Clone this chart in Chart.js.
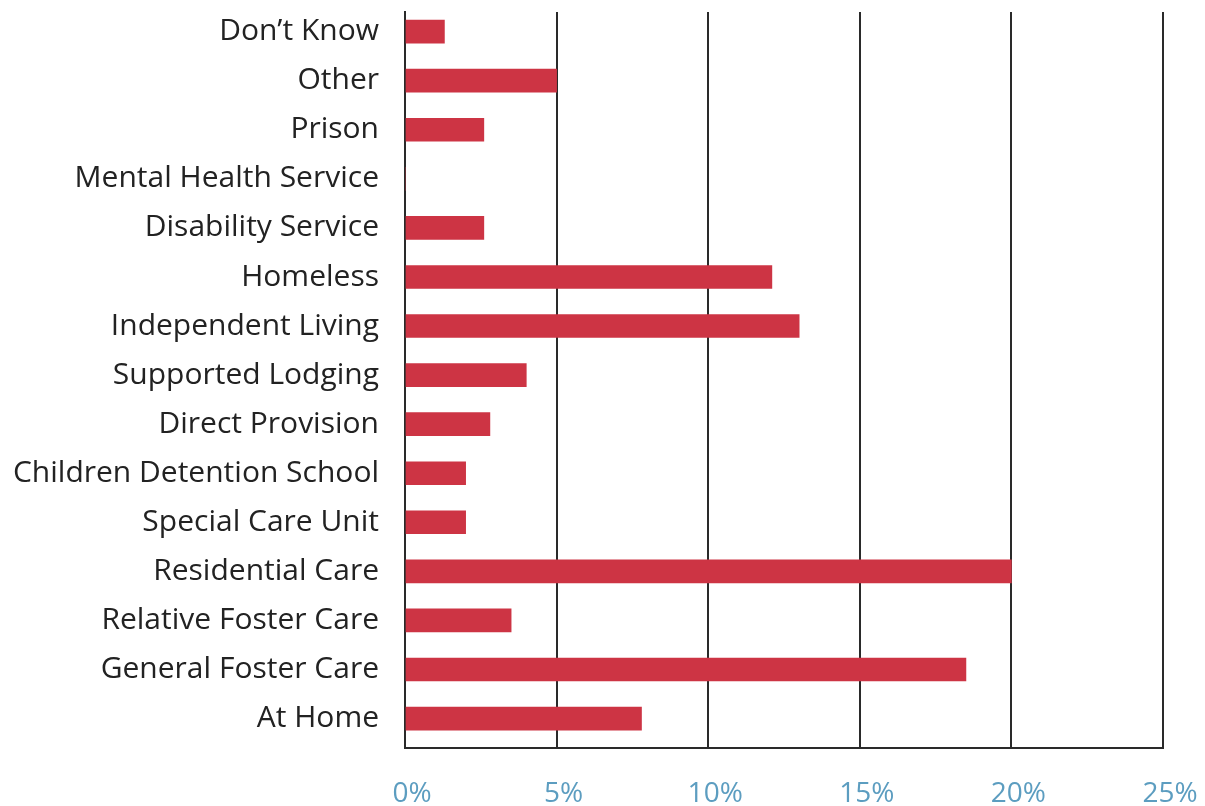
<!DOCTYPE html>
<html>
<head>
<meta charset="utf-8">
<script src="https://cdn.jsdelivr.net/npm/chart.js@4/dist/chart.umd.min.js"></script>
<style>
  html, body { margin: 0; padding: 0; background: #ffffff; }
  #wrap { width: 1205px; height: 806px; position: relative; }
</style>
</head>
<body>
<div id="wrap"><canvas id="chart" width="1205" height="806"></canvas></div>
<script>
// Where young people were living, top row first
const categories = [
  "Don\u2019t Know",
  "Other",
  "Prison",
  "Mental Health Service",
  "Disability Service",
  "Homeless",
  "Independent Living",
  "Supported Lodging",
  "Direct Provision",
  "Children Detention School",
  "Special Care Unit",
  "Residential Care",
  "Relative Foster Care",
  "General Foster Care",
  "At Home"
];

// Share of respondents, in percent
const percentages = [1.3, 5.0, 2.6, 0, 2.6, 12.1, 13.0, 4.0, 2.8, 2.0, 2.0, 20.0, 3.5, 18.5, 7.8];

// Value-axis ticks
const xTicks = [0, 5, 10, 15, 20, 25];

const points = percentages.map((v, i) => ({ x: v, y: i }));

// Keep the plot box fixed: no extra room reserved for edge labels
function noEdgePadding(scale) {
  scale.paddingTop = 0;
  scale.paddingBottom = 0;
  scale.paddingLeft = 0;
  scale.paddingRight = 0;
}

new Chart(document.getElementById("chart"), {
  type: "bar",
  data: {
    datasets: [{
      data: points,
      backgroundColor: "#cd3444",
      borderWidth: 0,
      barThickness: 23
    }]
  },
  options: {
    indexAxis: "y",
    responsive: false,
    animation: false,
    layout: { padding: { left: 0, right: 42, top: 12, bottom: 0 } },
    plugins: { legend: { display: false }, tooltip: { enabled: false } },
    scales: {
      x: {
        type: "linear",
        min: xTicks[0],
        max: xTicks[xTicks.length - 1],
        afterBuildTicks: (scale) => { scale.ticks = xTicks.map(v => ({ value: v })); },
        afterFit: (scale) => { scale.height = 58; noEdgePadding(scale); },
        grid: { color: "#2a2a2a", lineWidth: 2, drawTicks: false },
        border: { display: true, color: "#2a2a2a", width: 2 },
        ticks: {
          color: "#5c9dc0",
          font: { family: "Open Sans", size: 28 },
          padding: 29,
          labelOffset: 7,
          maxRotation: 0,
          callback: (v) => v + "%"
        }
      },
      y: {
        type: "linear",
        reverse: true,
        offset: false,
        min: -0.4,
        max: 14.6,
        afterBuildTicks: (scale) => { scale.ticks = categories.map((_, i) => ({ value: i })); },
        afterFit: (scale) => { scale.width = 405; noEdgePadding(scale); },
        grid: { display: false, drawTicks: false, offset: false },
        border: { display: true, color: "#2a2a2a", width: 2 },
        ticks: {
          autoSkip: false,
          color: "#222222",
          font: { family: "Open Sans", size: 30 },
          padding: 26,
          callback: (v) => categories[v]
        }
      }
    }
  }
});
</script>
</body>
</html>
